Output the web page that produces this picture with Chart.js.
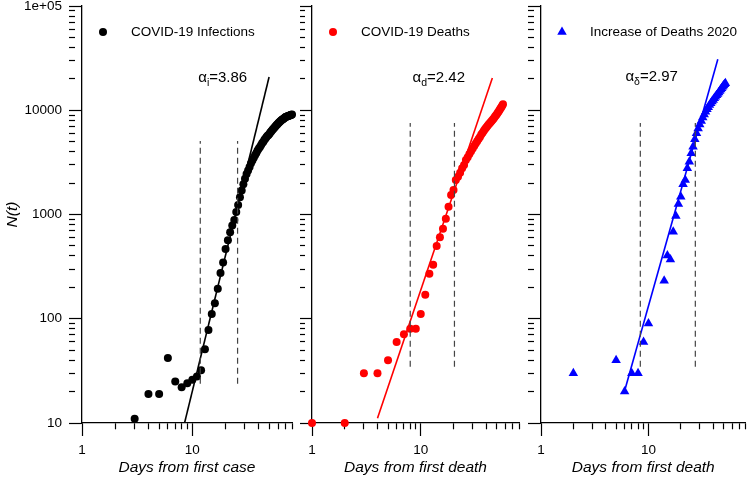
<!DOCTYPE html>
<html>
<head>
<meta charset="utf-8">
<script src="https://cdn.jsdelivr.net/npm/chart.js@4.4.1/dist/chart.umd.min.js"></script>
<style>
  body { margin: 0; background: #fff; }
  #wrap { position: relative; width: 751px; height: 477px; }
  canvas { position: absolute; top: 0; }
</style>
</head>
<body>
<div id="wrap">
  <canvas id="infections" width="300" height="477" style="left:0px"></canvas>
  <canvas id="deaths" width="225" height="477" style="left:300px"></canvas>
  <canvas id="increase" width="226" height="477" style="left:525px"></canvas>
</div>
<script>
// Tick positions for the log-log axes
const xTicks = [1, 2, 3, 4, 5, 6, 7, 8, 9, 10, 20, 30, 40, 50, 60, 70, 80];
const yTicks = [10, 20, 30, 40, 50, 60, 70, 80, 90,
  100, 200, 300, 400, 500, 600, 700, 800, 900,
  1000, 2000, 3000, 4000, 5000, 6000, 7000, 8000, 9000,
  10000, 20000, 30000, 40000, 50000, 60000, 70000, 80000, 90000, 100000];

// COVID-19 infections (days from first case)
const infectionDays = [3, 4, 5, 6, 7, 8, 9, 10, 11, 12, 13, 14, 15, 16, 17, 18, 19, 20,
  21, 22, 23, 24, 25, 26, 27, 28, 29, 30, 31, 32, 33, 34, 35, 36, 37, 38, 39, 40,
  41, 42, 43, 44, 45, 46, 47, 48, 49, 50, 51, 52, 53, 54, 55, 56, 57, 58, 59, 60,
  61, 62, 63, 64, 65, 66, 67, 68, 69, 70, 71, 72, 73, 74, 75, 76, 77, 78, 79, 80];
const infectionCounts = [11, 19, 19, 42, 25, 22, 24, 26, 28, 32, 51, 78, 111, 141, 194, 274, 346, 468,
  566, 676, 783, 887, 1059, 1236, 1466, 1695, 1950, 2200, 2450, 2650, 2850, 3100, 3300, 3500, 3700, 3900, 4100, 4300,
  4450, 4650, 4850, 5000, 5200, 5350, 5550, 5700, 5800, 5950, 6150, 6300, 6450, 6600, 6750, 6900, 7050, 7200, 7350, 7500,
  7650, 7750, 7900, 8000, 8100, 8200, 8300, 8400, 8500, 8600, 8650, 8700, 8750, 8800, 8850, 8900, 8950, 9000, 9050, 9100];
const infectionFit = [[8.5, 10], [49.6, 20850]];
const infectionCuts = [11.8, 25.7];
const infectionCutRange = [23.8, 5080];

// COVID-19 deaths (days from first death)
const deathDays = [1, 2, 3, 4, 5, 6, 7, 8, 9, 10, 11, 12, 13, 14, 15, 16, 17, 18, 19, 20,
  21, 22, 23, 24, 25, 26, 27, 28, 29, 30, 31, 32, 33, 34, 35, 36, 37, 38, 39, 40,
  41, 42, 43, 44, 45, 46, 47, 48, 49, 50, 51, 52, 53, 54, 55, 56, 57];
const deathCounts = [10, 10, 30, 30, 40, 60, 71, 80, 80, 111, 170, 270, 330, 499, 604, 731, 912, 1188, 1538, 1718,
  2143, 2307, 2518, 2773, 2985, 3335, 3550, 3800, 4050, 4300, 4550, 4800, 5050, 5300, 5550, 5850, 6100, 6350, 6600, 6850,
  7050, 7300, 7500, 7700, 7950, 8150, 8400, 8650, 8900, 9150, 9450, 9750, 10050, 10400, 10700, 11050, 11400];
const deathFit = [[4.0, 11.1], [45.5, 20400]];
const deathCuts = [8.0, 20.4];
const deathCutRange = [34.6, 7550];

// Increase of deaths 2020 (days from first death)
const increaseDays = [2, 5, 6, 7, 8, 9, 10, 14, 15, 16, 17, 18, 19, 20, 21, 22, 23, 24, 25, 26, 27, 28,
  29, 30, 31, 32, 33, 34, 35, 36, 37, 38, 39, 40, 41, 42, 43, 44, 45, 46, 47, 48, 49, 50, 51, 52];
const increaseCounts = [30, 40, 20, 30, 30, 60, 90, 232, 405, 371, 684, 968, 1262, 1482, 1950, 2143, 2773, 3212, 3864, 4470, 5265, 6010,
  6700, 7300, 7900, 8500, 9100, 9700, 10200, 10700, 11200, 11650, 12100, 12550, 13000, 13450, 13900, 14350, 14800, 15300, 15800, 16300, 16800, 17300, 17800, 18200];
const increaseFit = [[5.96, 19.8], [44.2, 30800]];
const increaseCuts = [8.4, 27.3];
const increaseCutRange = [34.6, 7550];

Chart.defaults.font.family = '"Liberation Sans", Arial, sans-serif';
Chart.defaults.color = '#000';

function isDecade(v) {
  const l = Math.log10(v);
  return Math.abs(l - Math.round(l)) < 1e-9;
}

// minor ticks are shortened with a dash pattern
function tickDash(c) {
  return c.tick && !isDecade(c.tick.value) ? [6, 30] : [];
}

// legend entry and the alpha label drawn inside the plot
const panelDecor = {
  id: 'panelDecor',
  afterDatasetsDraw(chart, args, o) {
    const { ctx, chartArea, scales } = chart;
    ctx.save();
    const ly = chartArea.top + 26;
    const mx = chartArea.left + 21;
    ctx.fillStyle = o.color;
    ctx.beginPath();
    if (o.marker === 'triangle') {
      const r = 5.5;
      ctx.moveTo(mx, ly - r);
      ctx.lineTo(mx + r * 0.866, ly + r / 2);
      ctx.lineTo(mx - r * 0.866, ly + r / 2);
      ctx.closePath();
    } else {
      ctx.arc(mx, ly, 4, 0, Math.PI * 2);
    }
    ctx.fill();

    ctx.fillStyle = '#000';
    ctx.textBaseline = 'middle';
    ctx.font = '13.5px "Liberation Sans"';
    ctx.fillText(o.legend, chartArea.left + 49, ly);

    let x = scales.x.getPixelForValue(o.alphaAt[0]);
    const y = scales.y.getPixelForValue(o.alphaAt[1]);
    ctx.font = '15px "Liberation Sans"';
    ctx.fillText('α', x, y);
    x += ctx.measureText('α').width;
    ctx.font = '10.5px "Liberation Sans"';
    ctx.fillText(o.alphaSub, x, y + 5);
    x += ctx.measureText(o.alphaSub).width;
    ctx.font = '15px "Liberation Sans"';
    ctx.fillText('=' + o.alphaValue, x, y);
    ctx.restore();
  }
};

function addPanel(id, p) {
  const ctx = document.getElementById(id);
  const pts = p.days.map((d, i) => ({ x: d, y: p.counts[i] }));
  const cut = (x) => ({
    data: [{ x: x, y: p.cutRange[0] }, { x: x, y: p.cutRange[1] }],
    showLine: true, pointRadius: 0, borderColor: '#444', borderWidth: 1.2, borderDash: [6, 4]
  });
  const axisGrid = {
    drawOnChartArea: false, tickLength: 13, tickColor: '#000', tickWidth: 1.2, tickBorderDash: tickDash
  };
  return new Chart(ctx, {
    type: 'scatter',
    data: {
      datasets: [
        cut(p.cuts[0]),
        cut(p.cuts[1]),
        {
          data: p.fit.map(f => ({ x: f[0], y: f[1] })),
          showLine: true, pointRadius: 0, borderColor: p.color, borderWidth: 1.6
        },
        {
          data: pts, pointStyle: p.marker, pointRadius: p.marker === 'triangle' ? 5.5 : 4,
          backgroundColor: p.color, borderWidth: 0, clip: false
        }
      ]
    },
    options: {
      responsive: false,
      animation: false,
      events: [],
      layout: { padding: { top: 6, right: p.padRight, bottom: 0, left: 0 } },
      plugins: {
        legend: { display: false },
        tooltip: { enabled: false },
        panelDecor: {
          legend: p.legend, color: p.color, marker: p.marker,
          alphaSub: p.alphaSub, alphaValue: p.alphaValue, alphaAt: p.alphaAt
        }
      },
      scales: {
        x: {
          type: 'logarithmic', min: 1, max: 80,
          afterBuildTicks: s => { s.ticks = xTicks.map(v => ({ value: v, major: isDecade(v) })); },
          afterFit: s => { s.height = 54; s.paddingLeft = 0; s.paddingRight = 0; },
          ticks: {
            autoSkip: false, maxRotation: 0, padding: 6, font: { size: 13.5 },
            callback: v => isDecade(v) ? String(v) : ''
          },
          grid: axisGrid,
          border: { color: '#000', width: 1.3 },
          title: { display: true, text: p.xTitle, font: { size: 15.5, style: 'italic' }, padding: 0 }
        },
        y: {
          type: 'logarithmic', min: 10, max: 100000,
          afterBuildTicks: s => { s.ticks = yTicks.map(v => ({ value: v, major: isDecade(v) })); },
          afterFit: s => { s.width = p.yWidth; s.paddingTop = 0; s.paddingBottom = 0; },
          ticks: {
            autoSkip: false, padding: 7, font: { size: 13.5 },
            callback: v => (p.yLabels && isDecade(v)) ? (v >= 100000 ? '1e+05' : String(v)) : ''
          },
          grid: axisGrid,
          border: { color: '#000', width: 1.3 },
          title: { display: p.yLabels, text: 'N(t)', font: { size: 15.5, style: 'italic' }, padding: { top: 3, bottom: 0 } }
        }
      }
    },
    plugins: [panelDecor]
  });
}

addPanel('infections', {
  days: infectionDays, counts: infectionCounts, fit: infectionFit, cuts: infectionCuts, cutRange: infectionCutRange,
  color: '#000', marker: 'circle', legend: 'COVID-19 Infections', xTitle: 'Days from first case',
  alphaSub: 'i', alphaValue: '3.86', alphaAt: [11.3, 20400], yLabels: true, yWidth: 82, padRight: 8
});
addPanel('deaths', {
  days: deathDays, counts: deathCounts, fit: deathFit, cuts: deathCuts, cutRange: deathCutRange,
  color: '#ff0000', marker: 'circle', legend: 'COVID-19 Deaths', xTitle: 'Days from first death',
  alphaSub: 'd', alphaValue: '2.42', alphaAt: [8.4, 20400], yLabels: false, yWidth: 12, padRight: 6
});
addPanel('increase', {
  days: increaseDays, counts: increaseCounts, fit: increaseFit, cuts: increaseCuts, cutRange: increaseCutRange,
  color: '#0000ff', marker: 'triangle', legend: 'Increase of Deaths 2020', xTitle: 'Days from first death',
  alphaSub: 'δ', alphaValue: '2.97', alphaAt: [6.1, 20850], yLabels: false, yWidth: 16, padRight: 2
});
</script>
</body>
</html>
